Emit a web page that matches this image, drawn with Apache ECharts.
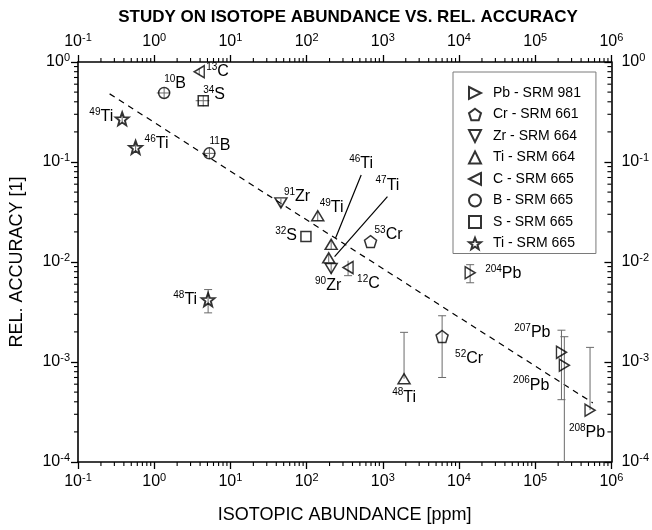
<!DOCTYPE html>
<html>
<head>
<meta charset="utf-8">
<script src="https://cdn.jsdelivr.net/npm/echarts@6/dist/echarts.min.js"></script>
<style>
  html, body { margin: 0; padding: 0; background: #fff; }
  #chart { width: 652px; height: 530px; }
</style>
</head>
<body>
<div id="chart"></div>
<script>
// Decade ticks of both log axes
const xTicks = [0.1, 1, 10, 100, 1e3, 1e4, 1e5, 1e6];
const yTicks = [1e-4, 1e-3, 1e-2, 1e-1, 1];

// Each row: [isotopic abundance (ppm), rel. accuracy, ± accuracy error, mass number]
const pbSrm981 = [[14000, 0.0078, 0.0016, '204'], [221000, 0.00125, 0.00083, '207'], [241000, 0.00093, 0.00086, '206'], [524000, 0.00033, 0.00107, '208']];
const crSrm661 = [[690, 0.016, 0, '53'], [6000, 0.0018, 0.0011, '52']];
const zrSrm664 = [[46, 0.039, 0.004, '91'], [210, 0.0086, 0.001, '90']];
const tiSrm664 = [[140, 0.029, 0.003, '49'], [210, 0.015, 0.0015, '46'], [195, 0.011, 0.001, '47'], [1900, 0.00068, 0.0013, '48']];
const cSrm665 = [[3.9, 0.80, 0.06, '13'], [350, 0.0088, 0.0015, '12']];
const bSrm665 = [[1.35, 0.49, 0.06, '10'], [5.3, 0.122, 0.015, '11']];
const sSrm665 = [[4.4, 0.41, 0.05, '34'], [98, 0.018, 0, '32']];
const tiSrm665 = [[0.38, 0.27, 0.02, '49'], [0.57, 0.14, 0.012, '46'], [5.1, 0.0042, 0.0011, '48']];

// ± abundance error (ppm) for the points measured with one: [abundance, accuracy, error]
const abundanceErrors = [[1.35, 0.49, 0.27], [5.3, 0.122, 1.06], [4.4, 0.41, 0.9]];

// Fitted trend: end points [abundance, accuracy]
const trendLine = [[0.26, 0.48], [5.7e5, 0.00039]];

// Leader lines for 46Ti / 47Ti (SRM 664): [from abundance, from accuracy, to abundance, to accuracy, mass number]
const tiCallouts = [[240, 0.0174, 520, 0.074, '46'], [233, 0.0113, 1150, 0.045, '47']];

const FONT = '"Liberation Sans", Arial, Helvetica, sans-serif';
const INK = '#000';
const BAR = '#6a6a6a';

// Symbol outlines
function polyPath(points) {
  return 'path://' + points.map((p, i) => (i ? 'L' : 'M') + p[0].toFixed(3) + ',' + p[1].toFixed(3)).join(' ') + ' Z';
}
function starPoints(n, outer, inner) {
  const pts = [];
  for (let i = 0; i < n * 2; i++) {
    const r = i % 2 ? inner : outer;
    const a = -Math.PI / 2 + i * Math.PI / n;
    pts.push([r * Math.cos(a), r * Math.sin(a)]);
  }
  return pts;
}
const SYM = {
  right: polyPath([[0, 0], [10, 5], [0, 10]]),
  left: polyPath([[10, 0], [0, 5], [10, 10]]),
  down: polyPath([[0, 0], [10, 0], [5, 10]]),
  up: polyPath([[5, 0], [10, 10], [0, 10]]),
  pentagon: polyPath(starPoints(5, 1, 1).filter((p, i) => i % 2 === 0)),
  star: polyPath(starPoints(5, 1, 0.42))
};

const isoRich = {
  s: { fontSize: 10, lineHeight: 10, verticalAlign: 'top', fontFamily: FONT, fill: INK, color: INK },
  t: { fontSize: 16, lineHeight: 19, fontFamily: FONT, fill: INK, color: INK }
};

// Label placement per series / mass number: [side, dx, dy]; null = labelled by a leader line
const placement = {
  'Pb - SRM 981': { '204': ['right', 6, 1], '207': ['left', -2, -20], '206': ['left', -6, 20], '208': ['bottom', -3, 4] },
  'Cr - SRM 661': { '53': ['right', -5, -7], '52': ['right', 4, 22] },
  'Zr - SRM 664': { '91': ['right', -6, -6], '90': ['bottom', -3, -1] },
  'Ti - SRM 664': { '49': ['right', -7, -8], '46': null, '47': null, '48': ['bottom', 0, 0] },
  'C - SRM 665': { '13': ['right', -2, 0], '12': ['right', 0, 16] },
  'B - SRM 665': { '10': ['right', -9, -9], '11': ['right', -9, -8] },
  'S - SRM 665': { '34': ['right', -9, -6], '32': ['left', 0, -1] },
  'Ti - SRM 665': { '49': ['left', 0, -2], '46': ['right', 0, -4], '48': ['left', -2, 0] }
};

const groups = [
  { name: 'Pb - SRM 981', el: 'Pb', data: pbSrm981, symbol: SYM.right, size: [10, 12] },
  { name: 'Cr - SRM 661', el: 'Cr', data: crSrm661, symbol: SYM.pentagon, size: 12 },
  { name: 'Zr - SRM 664', el: 'Zr', data: zrSrm664, symbol: SYM.down, size: [12, 10] },
  { name: 'Ti - SRM 664', el: 'Ti', data: tiSrm664, symbol: SYM.up, size: [12, 10] },
  { name: 'C - SRM 665', el: 'C', data: cSrm665, symbol: SYM.left, size: [10, 12] },
  { name: 'B - SRM 665', el: 'B', data: bSrm665, symbol: 'circle', size: 11 },
  { name: 'S - SRM 665', el: 'S', data: sSrm665, symbol: 'rect', size: 10 },
  { name: 'Ti - SRM 665', el: 'Ti', data: tiSrm665, symbol: SYM.star, size: 13, bw: 1.9 }
];

function decadeLabel(v) {
  const e = Math.round(Math.log10(v));
  return '10{e|' + e + '}';
}
const tickRich = { e: { fontSize: 11, lineHeight: 11, verticalAlign: 'top', fontFamily: FONT, color: INK } };

function logAxis(pos, min, max, tickInside, margin) {
  return {
    type: 'log', logBase: 10, position: pos, min, max, interval: 1,
    axisLine: { show: true, onZero: false, lineStyle: { color: INK, width: 1.6 } },
    axisTick: { show: true, inside: tickInside, length: 7, lineStyle: { color: INK, width: 1.3 } },
    axisLabel: {
      show: true, margin, fontSize: 16, lineHeight: 20, fontFamily: FONT, color: INK,
      formatter: decadeLabel, rich: tickRich, showMinLabel: true, showMaxLabel: true
    },
    splitLine: { show: false }, minorTick: { show: false }, minorSplitLine: { show: false }
  };
}

function minorValues(fromExp, toExp) {
  const out = [];
  for (let k = fromExp; k < toExp; k++) for (let m = 2; m <= 9; m++) out.push(m * Math.pow(10, k));
  return out;
}
const tickStyle = { stroke: INK, lineWidth: 1.1 };

function renderMinorX(params, api) {
  const cs = params.coordSys;
  const px = api.coord([api.value(0), 0.1])[0];
  const top = cs.y, bottom = cs.y + cs.height;
  return { type: 'group', children: [
    { type: 'line', shape: { x1: px, y1: bottom, x2: px, y2: bottom + 4 }, style: tickStyle },
    { type: 'line', shape: { x1: px, y1: top, x2: px, y2: top - 4 }, style: tickStyle }
  ] };
}
function renderMinorY(params, api) {
  const cs = params.coordSys;
  const py = api.coord([1, api.value(1)])[1];
  const left = cs.x, right = cs.x + cs.width;
  return { type: 'group', children: [
    { type: 'line', shape: { x1: left, y1: py, x2: left - 4, y2: py }, style: tickStyle },
    { type: 'line', shape: { x1: right, y1: py, x2: right - 4, y2: py }, style: tickStyle }
  ] };
}

const barStyle = { stroke: BAR, lineWidth: 1 };
function renderYError(params, api) {
  const x = api.value(0), y = api.value(1), e = api.value(2);
  const p = api.coord([x, y]);
  const hi = api.coord([x, y + e]);
  const lo = y - e > 0 ? api.coord([x, y - e]) : null;
  const children = [{ type: 'line', shape: { x1: p[0], y1: hi[1], x2: p[0], y2: lo ? lo[1] : p[1] }, style: barStyle }];
  if (p[1] - hi[1] > 7) children.push({ type: 'line', shape: { x1: p[0] - 4, y1: hi[1], x2: p[0] + 4, y2: hi[1] }, style: barStyle });
  if (lo && lo[1] - p[1] > 7) children.push({ type: 'line', shape: { x1: p[0] - 4, y1: lo[1], x2: p[0] + 4, y2: lo[1] }, style: barStyle });
  return { type: 'group', children };
}
function renderXError(params, api) {
  const x = api.value(0), y = api.value(1), e = api.value(2);
  const a = api.coord([x - e, y]);
  const b = api.coord([x + e, y]);
  return { type: 'line', shape: { x1: a[0], y1: a[1], x2: b[0], y2: b[1] }, style: barStyle };
}
function isoText(iso, el) {
  return '{s|' + iso + '}{t|' + el + '}';
}
function renderCallout(params, api) {
  const a = api.coord([api.value(0), api.value(1)]);
  const b = api.coord([api.value(2), api.value(3)]);
  const iso = tiCallouts[params.dataIndex][4];
  return { type: 'group', children: [
    { type: 'line', shape: { x1: a[0], y1: a[1], x2: b[0], y2: b[1] }, style: { stroke: INK, lineWidth: 1.2 } },
    { type: 'text', x: b[0], y: b[1] - 2, style: {
      text: isoText(iso, 'Ti'), rich: isoRich, align: 'center', verticalAlign: 'bottom', fill: INK
    } }
  ] };
}

// Isotope labels beside their marks
const labelRows = [];
groups.forEach(g => g.data.forEach(d => {
  const pl = placement[g.name][d[3]];
  if (pl) labelRows.push({ value: [d[0], d[1]], text: isoText(d[3], g.el), pl });
}));
function renderIsoLabel(params, api) {
  const row = labelRows[params.dataIndex];
  const p = api.coord([api.value(0), api.value(1)]);
  const side = row.pl[0], gap = 9;
  let x = p[0] + row.pl[1], y = p[1] + row.pl[2], align = 'center', vAlign = 'middle';
  if (side === 'right') { x += gap; align = 'left'; }
  else if (side === 'left') { x -= gap; align = 'right'; }
  else if (side === 'bottom') { y += gap; vAlign = 'top'; }
  return { type: 'text', x, y, style: { text: row.text, rich: isoRich, align, verticalAlign: vAlign, fill: INK } };
}

const series = [];
groups.forEach(g => {
  series.push({
    name: g.name, type: 'scatter', symbol: g.symbol, symbolSize: g.size, z: 5,
    itemStyle: { color: 'rgba(255,255,255,0)', borderColor: INK, borderWidth: g.bw || 1.5 },
    emphasis: { disabled: true },
    data: g.data.map(d => [d[0], d[1]])
  });
  series.push({
    type: 'custom', coordinateSystem: 'cartesian2d', clip: true, z: 4, silent: true,
    renderItem: renderYError, encode: { x: 0, y: 1 },
    data: g.data.filter(d => d[2] > 0).map(d => [d[0], d[1], d[2]])
  });
});
series.push({
  type: 'custom', coordinateSystem: 'cartesian2d', clip: true, z: 4, silent: true,
  renderItem: renderXError, encode: { x: 0, y: 1 }, data: abundanceErrors
});
series.push({
  type: 'line', data: trendLine, symbol: 'none', silent: true, z: 3,
  lineStyle: { color: INK, width: 1.2, type: [6, 5] }
});
series.push({
  type: 'custom', coordinateSystem: 'cartesian2d', clip: false, z: 6, silent: true,
  renderItem: renderIsoLabel, encode: { x: 0, y: 1 }, data: labelRows.map(r => r.value)
});
series.push({
  type: 'custom', coordinateSystem: 'cartesian2d', clip: false, z: 6, silent: true,
  renderItem: renderCallout, encode: { x: 0, y: 1 }, data: tiCallouts.map(c => c.slice(0, 4))
});
series.push({
  type: 'custom', coordinateSystem: 'cartesian2d', clip: false, z: 2, silent: true,
  renderItem: renderMinorX, encode: { x: 0, y: 1 }, data: minorValues(-1, 6).map(v => [v, 0.1])
});
series.push({
  type: 'custom', coordinateSystem: 'cartesian2d', clip: false, z: 2, silent: true,
  renderItem: renderMinorY, encode: { x: 0, y: 1 }, data: minorValues(-4, 0).map(v => [1, v])
});

const chart = echarts.init(document.getElementById('chart'), null, { renderer: 'canvas' });
chart.setOption({
  animation: false,
  backgroundColor: '#fff',
  textStyle: { fontFamily: FONT },
  title: {
    text: 'STUDY ON ISOTOPE ABUNDANCE VS. REL. ACCURACY',
    left: 343, top: 4, textAlign: 'center',
    textStyle: { fontFamily: FONT, fontWeight: 'bold', fontSize: 17, color: INK }
  },
  grid: { left: 77, right: 38, top: 62, bottom: 68, containLabel: false },
  legend: {
    orient: 'vertical', left: 453, top: 72,
    padding: [14, 15, 3, 15],
    itemWidth: 12, itemHeight: 12, itemGap: 7.5,
    borderColor: '#7a7a7a', borderWidth: 1,
    selectedMode: false,
    textStyle: { fontFamily: FONT, fontSize: 14, color: INK, lineHeight: 12.5, padding: [0, 0, 0, 7] },
    data: groups.map(g => g.name)
  },
  xAxis: [
    Object.assign(logAxis('bottom', xTicks[0], xTicks[xTicks.length - 1], false, 10), {
      name: 'ISOTOPIC ABUNDANCE [ppm]', nameLocation: 'middle', nameGap: 44,
      nameTextStyle: { fontFamily: FONT, fontSize: 18, color: INK }
    }),
    logAxis('top', xTicks[0], xTicks[xTicks.length - 1], false, 10)
  ],
  yAxis: [
    Object.assign(logAxis('left', yTicks[0], yTicks[yTicks.length - 1], false, 8), {
      name: 'REL. ACCURACY [1]', nameLocation: 'middle', nameGap: 52,
      nameTextStyle: { fontFamily: FONT, fontSize: 18, color: INK }
    }),
    logAxis('right', yTicks[0], yTicks[yTicks.length - 1], true, 10)
  ],
  series
});
</script>
</body>
</html>
